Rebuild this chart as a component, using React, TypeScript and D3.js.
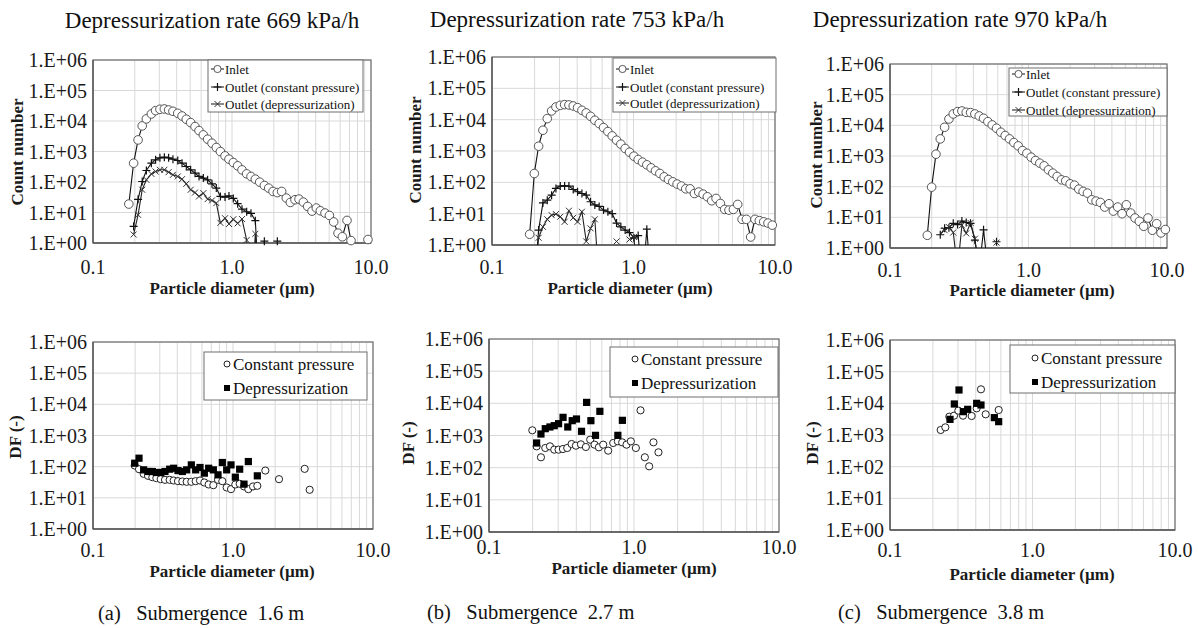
import React from "react";
import * as d3 from "d3";

// ---------------- DATA ----------------
const xTickValues = [0.1, 1, 10];
const xTickLabels = ["0.1", "1.0", "10.0"];
const yTickValues = [1, 10, 100, 1000, 10000, 100000, 1000000];
const yTickLabels = ["1.E+00", "1.E+01", "1.E+02", "1.E+03", "1.E+04", "1.E+05", "1.E+06"];

const titles = ["Depressurization rate 669 kPa/h", "Depressurization rate 753 kPa/h", "Depressurization rate 970 kPa/h"];
const captions = ["(a)   Submergence  1.6 m", "(b)   Submergence  2.7 m", "(c)   Submergence  3.8 m"];
const topLegend = ["Inlet", "Outlet (constant pressure)", "Outlet (depressurization)"];
const bottomLegend = ["Constant pressure", "Depressurization"];

// (a) 669 kPa/h count distributions
const diamA = [0.181,0.196,0.211,0.226,0.242,0.263,0.282,0.303,0.326,0.350,0.376,0.407,0.437,0.469,0.504,0.542,0.579,0.622,0.668,0.718,0.771,0.825,0.891,0.951,1.022,1.098,1.180,1.275,1.370,1.472,1.582,1.709,1.836,1.972,2.119,2.277,2.460,2.629,2.839,3.034,3.26,3.503,3.763,4.044,4.32,4.667,5.02,5.39,5.79,6.22,6.72,7.18,8.3,9.51];
const inletA = [18.9,414,2400,6900,11700,17000,21900,24200,24800,23000,20800,17900,14600,11400,8870,6560,4850,3500,2530,1870,1350,997,720,560,435,339,250,185,152,124,99,77,63,49,45,49,29.7,21.4,26.2,27.5,21.9,15.8,11.1,14.0,11.4,9.6,8.0,4.9,2.1,1.6,5.5,1.2,null,1.3];
const cpA = [null,3.5,27,104,238,414,533,619,651,619,560,506,414,322,251,195,152,134,118,87,63,33.6,32,35,29,19.4,12.9,10.6,9.4,5.4,0.01,1.15,null,null,1.15,null,null,null,null,null,null,null,null,null,null,null,null,null,null,null,null,null,null,null];
const dpA = [null,1.9,8.4,55.6,118,185,221,251,251,210,172,152,124,87,55.6,45,33.6,43,27.5,24.9,20.3,4.6,6.5,4.2,6.0,4.4,6.1,1.25,0.01,2.0,0.01,null,null,null,null,null,null,null,null,null,null,null,null,null,null,null,null,null,null,null,null,null,null,null];

// (b) 753 kPa/h
const diamB = [0.1845,0.199,0.2135,0.229,0.2458,0.2638,0.283,0.3037,0.326,0.3496,0.375,0.4025,0.432,0.4634,0.497,0.533,0.572,0.614,0.659,0.707,0.759,0.814,0.873,0.937,1.006,1.079,1.158,1.242,1.333,1.430,1.535,1.647,1.766,1.895,2.033,2.182,2.34,2.512,2.695,2.891,3.102,3.328,3.571,3.833,4.11,4.41,4.73,5.08,5.45,5.85,6.28,6.73,7.22,7.75,8.32,8.92,9.57];
const inletB = [2.2,191,1420,4600,10800,19000,25400,28700,30200,29500,27400,24200,19900,16400,12800,9570,7500,5590,4170,3030,2210,1650,1200,916,683,535,440,362,290,233,192,150,123,104,88,76,62,62,44,49,42,34.6,25.8,30.6,21.2,13.7,13.0,13.7,19.7,6.6,6.6,1.8,6.6,6.0,5.5,5.0,4.3];
const cpB = [null,0.05,3.0,22,27,39,64,76,77,76,59,50,44,39,24,19,17,13,11.5,10,5,3.8,3.0,2.5,1.7,2.0,0.05,3.2,0.05,null,null,null,null,null,null,null,null,null,null,null,null,null,null,null,null,null,null,null,null,null,null,null,null,null,null,null,null];
const dpB = [null,0.05,1.7,3.8,6.6,9.0,9.7,8.0,5.5,12.4,7.4,5.5,11.5,1.3,3.4,6.6,0.05,null,null,null,1.3,null,null,1.5,1.8,0.05,null,null,null,null,null,null,null,null,null,null,null,null,null,null,null,null,null,null,null,null,null,null,null,null,null,null,null,null,null,null,null];

// (c) 970 kPa/h
const diamC = [0.186,0.1998,0.2147,0.2307,0.2479,0.2664,0.2862,0.3076,0.3304,0.355,0.3815,0.41,0.4406,0.4736,0.5089,0.547,0.5875,0.6315,0.6786,0.7293,0.7838,0.8424,0.9053,0.973,1.045,1.123,1.207,1.297,1.394,1.498,1.61,1.73,1.858,1.997,2.146,2.307,2.479,2.664,2.862,3.076,3.304,3.551,3.815,4.1,4.406,4.736,5.089,5.47,5.875,6.315,6.786,7.293,7.838,8.424,9.053,9.73];
const inletC = [2.6,96.5,1145,3610,8650,16100,23500,28000,29400,26600,26000,23500,20200,17000,13200,10300,8030,5950,4630,3610,2740,2140,1505,1230,914,712,583,477,354,276,215,167,155,124,112,83,70,61.6,37.4,33.8,30.6,21.6,27.7,16,21.6,13.1,25.7,13.8,9.5,7.4,5.1,9.5,3.8,6.2,3.1,4.0];
const cpC = [null,null,null,2.7,4.4,4.6,6.4,5.8,7.6,6.8,6.4,1.8,0.2,3.9,0.2,null,1.6,null,null,null,null,null,null,null,null,null,null,null,null,null,null,null,null,null,null,null,null,null,null,null,null,null,null,null,null,null,null,null,null,null,null,null,null,null,null,null];
const dpC = [null,null,null,null,3.8,4.8,3.2,0.2,5.5,3.0,6.6,2.0,0.2,null,null,null,1.5,null,null,null,null,null,null,null,null,null,null,null,null,null,null,null,null,null,null,null,null,null,null,null,null,null,null,null,null,null,null,null,null,null,null,null,null,null,null,null];

// Decontamination factors
const dfA_cp_x = [0.1985,0.2131,0.2301,0.2471,0.2653,0.2835,0.3044,0.3268,0.3528,0.3769,0.4047,0.4346,0.4667,0.5039,0.5412,0.5812,0.6241,0.6702,0.7236,0.7815,0.8391,0.9012,0.9676,1.039,1.116,1.198,1.287,1.39,1.492,1.702,2.131,3.25,3.528];
const dfA_cp_y = [109,83,58.9,50.8,46,42.8,39.7,37.8,37.8,36,34.3,33.5,32.7,32.7,34.3,36,31.1,26.8,25.5,37.8,34.3,21.5,19.0,26.8,28.2,23.2,19.0,23.2,24.3,75,39.7,85,18.1];
const dfA_dp_x = [0.1985,0.2131,0.2301,0.2471,0.2653,0.2835,0.3044,0.3268,0.3528,0.3769,0.4047,0.4346,0.4667,0.5039,0.5412,0.5812,0.6241,0.6702,0.7236,0.7815,0.8391,0.9012,0.9676,1.039,1.116,1.198,1.287,1.492];
const dfA_dp_y = [129,187,79,70,70,65,65,70,83,89,75,70,79,114,79,94,62,89,79,54.7,136,79,114,46,83,27.5,146,50.8];

const dfB_cp_x = [0.1989,0.2130,0.2282,0.2444,0.2632,0.2818,0.3019,0.3234,0.3464,0.3711,0.3975,0.4303,0.4657,0.4989,0.5344,0.5724,0.6133,0.6637,0.7187,0.7738,0.8288,0.8878,0.9511,1.03,1.109,1.188,1.272,1.362,1.475];
const dfB_cp_y = [1450,460,210,409,460,363,363,380,409,544,483,531,439,742,519,429,519,338,585,659,613,519,659,409,6060,210,110,613,300];
const dfB_dp_x = [0.2130,0.2282,0.2444,0.2632,0.2818,0.3019,0.3241,0.3493,0.3750,0.4012,0.4346,0.4712,0.5043,0.5427,0.5816,0.7738,0.8315];
const dfB_dp_y = [585,1113,1630,1840,2020,2330,3670,1840,2890,3260,1350,10700,2890,1012,5640,1012,2960];

const dfC_cp_x = [0.2268,0.2445,0.2608,0.2813,0.3016,0.3253,0.3742,0.4057,0.435,0.4693,0.5789];
const dfC_cp_y = [1439,1746,3790,4080,5870,4080,3980,6950,27700,4500,6160];
const dfC_dp_x = [0.2637,0.2828,0.3049,0.3269,0.3508,0.4057,0.435,0.5398,0.5789];
const dfC_dp_y = [3120,9530,26400,5460,6470,10000,8860,3530,2640];

// ---------------- LAYOUT ----------------
const FONT = '"Liberation Serif","Times New Roman",Times,serif';
type Box = { l: number; r: number; t: number; b: number };

const topLayout = [
  { box: { l: 93, r: 371, t: 60, b: 243 }, leg: { x: 208, y: 60, w: 155, h: 52, rows: [69, 87, 104] }, yT: [17, 152], xTickY: 274, xT: [232, 294], title: [212, 28] },
  { box: { l: 492, r: 775, t: 57, b: 245 }, leg: { x: 613, y: 58, w: 163, h: 54, rows: [69, 87, 103] }, yT: [415, 150], xTickY: 274, xT: [630, 294], title: [577, 27] },
  { box: { l: 890, r: 1167, t: 64, b: 248 }, leg: { x: 1009, y: 68, w: 158, h: 48, rows: [74, 92, 110] }, yT: [816, 155], xTickY: 277, xT: [1032, 296], title: [960, 27] },
];
const bottomLayout = [
  { box: { l: 93, r: 373, t: 342, b: 529 }, leg: { x: 204, y: 352, w: 163, h: 48, rows: [364, 388], mx: 227 }, yT: [15, 437], xTickY: 557, xT: [232, 577], cap: [98, 620, 20.5] },
  { box: { l: 489, r: 779, t: 339, b: 532 }, leg: { x: 610, y: 347, w: 168, h: 50, rows: [359, 383], mx: 635 }, yT: [408, 443], xTickY: 554, xT: [634, 574], cap: [427, 619, 20.5] },
  { box: { l: 890, r: 1175, t: 340, b: 530 }, leg: { x: 1010, y: 345, w: 165, h: 48, rows: [358, 382], mx: 1035 }, yT: [812, 443], xTickY: 557, xT: [1032, 580], cap: [838, 619, 20.5] },
];

const topSeries = [
  { diam: diamA, inlet: inletA, cp: cpA, dp: dpA },
  { diam: diamB, inlet: inletB, cp: cpB, dp: dpB },
  { diam: diamC, inlet: inletC, cp: cpC, dp: dpC },
];
const bottomSeries = [
  { cpx: dfA_cp_x, cpy: dfA_cp_y, dpx: dfA_dp_x, dpy: dfA_dp_y },
  { cpx: dfB_cp_x, cpy: dfB_cp_y, dpx: dfB_dp_x, dpy: dfB_dp_y },
  { cpx: dfC_cp_x, cpy: dfC_cp_y, dpx: dfC_dp_x, dpy: dfC_dp_y },
];

function scales(box: Box) {
  const x = d3.scaleLog().domain([0.1, 10]).range([box.l, box.r]);
  const y = d3.scaleLog().domain([1, 1e6]).range([box.b, box.t]);
  return { x, y };
}

function Axes({ box, id, yTitle, yT, xTickY, xT }: any) {
  const { x, y } = scales(box);
  const minor = x.ticks();
  return (
    <g>
      <defs>
        <clipPath id={id}>
          <rect x={box.l} y={box.t} width={box.r - box.l} height={box.b - box.t} />
        </clipPath>
      </defs>
      <rect x={box.l} y={box.t} width={box.r - box.l} height={box.b - box.t} fill="#fff" />
      {minor.map((v, i) => (
        <line key={"vx" + i} x1={x(v)} x2={x(v)} y1={box.t} y2={box.b} stroke="#d9d9d9" strokeWidth={1} />
      ))}
      {yTickValues.map((v, i) => (
        <line key={"hy" + i} x1={box.l} x2={box.r} y1={y(v)} y2={y(v)} stroke="#d9d9d9" strokeWidth={1} />
      ))}
      <rect x={box.l} y={box.t} width={box.r - box.l} height={box.b - box.t} fill="none" stroke="#6e6e6e" strokeWidth={1.2} />
      <line x1={box.l} x2={box.r} y1={box.b} y2={box.b} stroke="#595959" strokeWidth={1.6} />
      <line x1={box.l} x2={box.l} y1={box.t} y2={box.b} stroke="#595959" strokeWidth={1.4} />
      {yTickValues.map((v, i) => (
        <text key={"yl" + i} x={box.l - 6} y={y(v) + 7} textAnchor="end" fontSize={20} fontFamily={FONT} fill="#1a1a1a">
          {yTickLabels[i]}
        </text>
      ))}
      {xTickValues.map((v, i) => (
        <text key={"xl" + i} x={x(v)} y={xTickY} textAnchor="middle" fontSize={20} fontFamily={FONT} fill="#1a1a1a">
          {xTickLabels[i]}
        </text>
      ))}
      <text x={xT[0]} y={xT[1]} textAnchor="middle" fontSize={17} fontWeight="bold" fontFamily={FONT} fill="#1a1a1a">
        Particle diameter (µm)
      </text>
      <text transform={`translate(${yT[0]},${yT[1]}) rotate(-90)`} textAnchor="middle" dy={6} fontSize={17} fontWeight="bold" fontFamily={FONT} fill="#1a1a1a">
        {yTitle}
      </text>
    </g>
  );
}

function Plus({ cx, cy, s = 4 }: any) {
  return <path d={`M${cx - s},${cy}H${cx + s}M${cx},${cy - s}V${cy + s}`} stroke="#111" strokeWidth={1.2} fill="none" />;
}
function Cross({ cx, cy, s = 3 }: any) {
  return <path d={`M${cx - s},${cy - s}L${cx + s},${cy + s}M${cx - s},${cy + s}L${cx + s},${cy - s}`} stroke="#333" strokeWidth={1} fill="none" />;
}

function TopPanel({ idx }: { idx: number }) {
  const L = topLayout[idx];
  const S = topSeries[idx];
  const { x, y } = scales(L.box);
  const id = "clipT" + idx;
  const mk = (vals: (number | null)[]) => S.diam.map((d, i) => ({ d, v: vals[i] }));
  const line = d3
    .line<{ d: number; v: number | null }>()
    .defined((p) => p.v != null)
    .x((p) => x(p.d))
    .y((p) => y(p.v as number));
  const visible = (p: { v: number | null }) => p.v != null && (p.v as number) >= 0.999;
  const inl = mk(S.inlet), cp = mk(S.cp), dp = mk(S.dp);
  const lg = L.leg;
  return (
    <g>
      <Axes box={L.box} id={id} yTitle="Count number" yT={L.yT} xTickY={L.xTickY} xT={L.xT} />
      <g clipPath={`url(#${id})`}>
        <path d={line(inl) || ""} fill="none" stroke="#111" strokeWidth={1.1} />
        <path d={line(cp) || ""} fill="none" stroke="#111" strokeWidth={1.1} />
        <path d={line(dp) || ""} fill="none" stroke="#222" strokeWidth={1.1} />
      </g>
      {inl.filter(visible).map((p, i) => (
        <circle key={"i" + i} cx={x(p.d)} cy={y(p.v as number)} r={4.3} fill="#fff" stroke="#555" strokeWidth={1} />
      ))}
      {cp.filter(visible).map((p, i) => (
        <Plus key={"p" + i} cx={x(p.d)} cy={y(p.v as number)} />
      ))}
      {dp.filter(visible).map((p, i) => (
        <Cross key={"c" + i} cx={x(p.d)} cy={y(p.v as number)} />
      ))}
      <rect x={lg.x} y={lg.y} width={lg.w} height={lg.h} fill="#fff" stroke="#6e6e6e" strokeWidth={1} />
      {topLegend.map((t, i) => {
        const cy = lg.rows[i];
        const x0 = lg.x + 3, x1 = lg.x + 16, cx = (x0 + x1) / 2;
        return (
          <g key={"lg" + i}>
            <line x1={x0} x2={x1} y1={cy} y2={cy} stroke="#111" strokeWidth={1} />
            {i === 0 && <circle cx={cx} cy={cy} r={3.6} fill="#fff" stroke="#555" strokeWidth={1} />}
            {i === 1 && <Plus cx={cx} cy={cy} />}
            {i === 2 && <Cross cx={cx} cy={cy} />}
            <text x={x1 + 1} y={cy + 4.5} fontSize={13} fontFamily={FONT} fill="#111">
              {t}
            </text>
          </g>
        );
      })}
      <text x={L.title[0]} y={L.title[1]} textAnchor="middle" fontSize={23} fontFamily={FONT} fill="#111" style={{ whiteSpace: "pre" }}>
        {titles[idx]}
      </text>
    </g>
  );
}

function BottomPanel({ idx }: { idx: number }) {
  const L = bottomLayout[idx];
  const S = bottomSeries[idx];
  const { x, y } = scales(L.box);
  const id = "clipB" + idx;
  const lg = L.leg;
  return (
    <g>
      <Axes box={L.box} id={id} yTitle="DF (-)" yT={L.yT} xTickY={L.xTickY} xT={L.xT} />
      {S.cpx.map((d, i) => (
        <circle key={"c" + i} cx={x(d)} cy={y(S.cpy[i])} r={3.6} fill="#fff" stroke="#222" strokeWidth={1} />
      ))}
      {S.dpx.map((d, i) => (
        <rect key={"s" + i} x={x(d) - 3.6} y={y(S.dpy[i]) - 3.6} width={7.2} height={7.2} fill="#000" />
      ))}
      <rect x={lg.x} y={lg.y} width={lg.w} height={lg.h} fill="#fff" stroke="#6e6e6e" strokeWidth={1} />
      {bottomLegend.map((t, i) => {
        const cy = lg.rows[i];
        return (
          <g key={"bl" + i}>
            {i === 0 ? (
              <circle cx={lg.mx} cy={cy} r={3} fill="#fff" stroke="#222" strokeWidth={1} />
            ) : (
              <rect x={lg.mx - 3} y={cy - 3} width={6} height={6} fill="#000" />
            )}
            <text x={lg.mx + 6} y={cy + 6} fontSize={17} fontFamily={FONT} fill="#111">
              {t}
            </text>
          </g>
        );
      })}
      <text x={L.cap[0]} y={L.cap[1]} fontSize={L.cap[2]} fontFamily={FONT} fill="#111" style={{ whiteSpace: "pre" }}>
        {captions[idx]}
      </text>
    </g>
  );
}

export default function App() {
  return (
    <svg width={1198} height={628} viewBox="0 0 1198 628" style={{ position: "absolute", left: 0, top: 0, background: "#fff" }}>
      <rect x={0} y={0} width={1198} height={628} fill="#fff" />
      {[0, 1, 2].map((i) => (
        <TopPanel key={"t" + i} idx={i} />
      ))}
      {[0, 1, 2].map((i) => (
        <BottomPanel key={"b" + i} idx={i} />
      ))}
    </svg>
  );
}
